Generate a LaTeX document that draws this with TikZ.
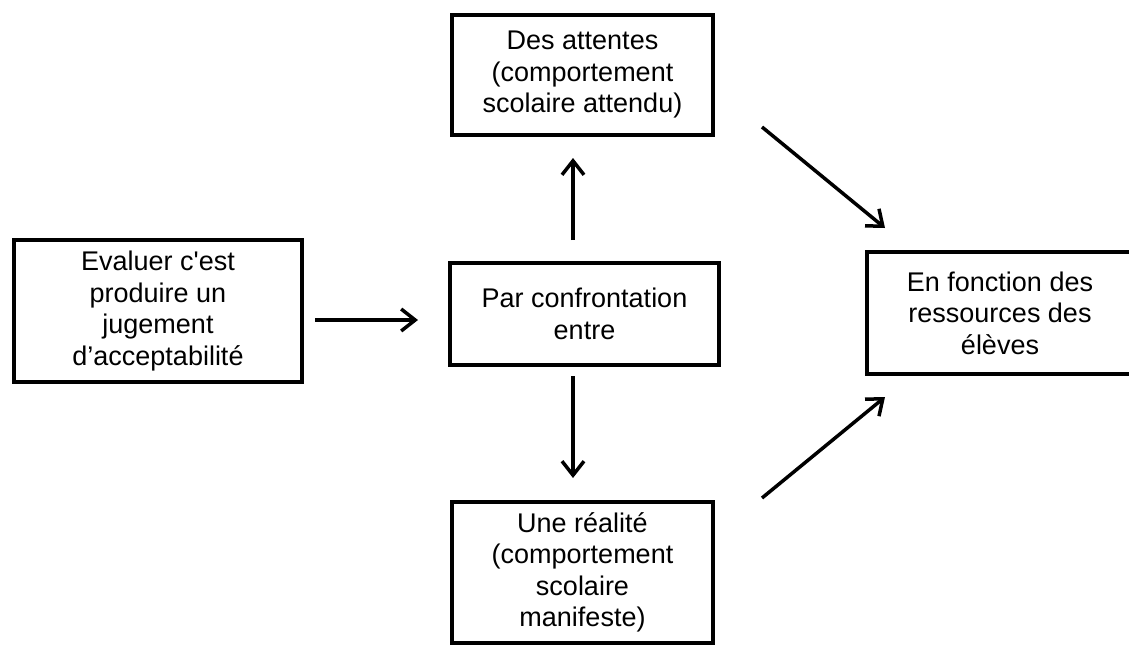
\documentclass[tikz,border=0pt]{standalone}
\usepackage{fontspec}
\newfontfamily\boxfont{Liberation Sans}
\usetikzlibrary{arrows.meta}

\begin{document}
\begin{tikzpicture}[x=1pt,y=-1pt]
	\useasboundingbox (0,0) rectangle (1129,646);
	\begin{scope}[every node/.style = {rectangle, draw, line width=4pt,
			inner sep=0pt, outer sep=0pt, align=center,
			font = \boxfont\fontsize{27}{31.5}\selectfont}]
		\node[minimum width=288pt, minimum height=142pt] (E) at (158,311)
			{Evaluer c'est\\produire un\\jugement\\d’acceptabilité};
		\node[minimum width=269pt, minimum height=102pt] (C) at (584.5,314)
			{Par confrontation\\entre};
		\node[minimum width=261pt, minimum height=120pt] (A) at (582.5,75)
			{Des attentes\\(comportement\\scolaire attendu)};
		\node[minimum width=261pt, minimum height=141pt] (R) at (582.5,572.5)
			{Une réalité\\(comportement\\scolaire\\manifeste)};
		\node[minimum width=266pt, minimum height=122pt] (F) at (1000,313)
			{En fonction des\\ressources des\\élèves};
	\end{scope}
	\begin{scope}[>={Straight Barb[length=14pt,width=22pt]},
			every edge/.style={draw=black, line width=3.5pt}]
		\path [->] ([yshift=-9pt]E.east) edge[shorten <=13pt, shorten >=32pt] ([yshift=-6pt]C.west);
		\path [->] ([xshift=-11.5pt]C.north) edge[shorten <=23pt, shorten >=23pt] ([xshift=-9.5pt]A.south);
		\path [->] ([xshift=-11.5pt]C.south) edge[shorten <=11pt, shorten >=24pt] ([xshift=-9.5pt]R.north);
		\path [->] ([shift={(49pt,8pt)}]A.south east) edge ([shift={(18pt,24pt)}]F.north west);
		\path [->] ([shift={(49pt,4pt)}]R.north east) edge ([shift={(18pt,-23pt)}]F.south west);
	\end{scope}
\end{tikzpicture}
\end{document}
